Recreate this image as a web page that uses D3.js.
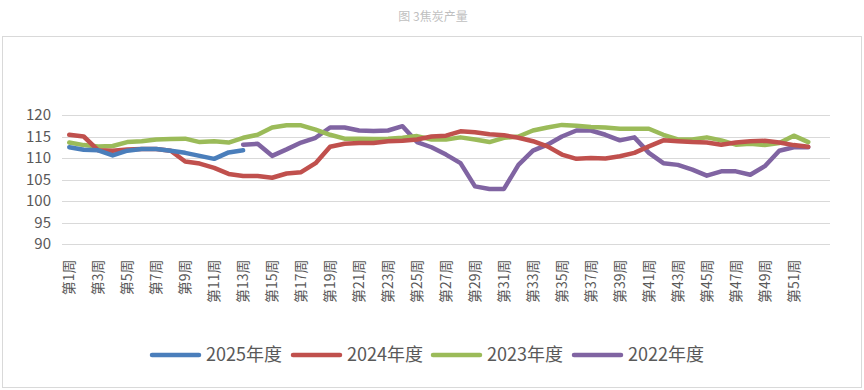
<!DOCTYPE html>
<html>
<head>
<meta charset="utf-8">
<script src="https://cdn.jsdelivr.net/npm/d3@7/dist/d3.min.js"></script>
<style>
  body { margin: 0; background: #fff; }
  text { font-family: "Noto Sans CJK SC", "Noto Sans", sans-serif; }
</style>
</head>
<body>
<svg id="chart"></svg>
<script>
// weeks 1..53 on the axis, data runs to week 52
var weeks = d3.range(1, 54).map(function (d) { return "第" + d + "周"; });
var tickWeeks = d3.range(1, 52, 2).map(function (d) { return "第" + d + "周"; });
var yTicks = [90, 95, 100, 105, 110, 115, 120];

var v2025 = [112.5, 111.9, 111.8, 110.6, 111.7, 112.1, 112.1, 111.7, 111.2, 110.5, 109.8, 111.3, 111.8];

var v2024 = [115.4, 115.0, 111.8, 111.7, 112.0, 112.1, 112.1, 111.7, 109.2, 108.7, 107.7, 106.3, 105.8,
  105.8, 105.4, 106.4, 106.7, 108.8, 112.6, 113.3, 113.5, 113.5, 113.9, 114.0, 114.3, 115.0,
  115.2, 116.2, 116.0, 115.5, 115.3, 114.7, 113.9, 112.7, 110.8, 109.8, 110.0, 109.9, 110.4,
  111.2, 112.7, 114.1, 113.9, 113.7, 113.6, 113.1, 113.6, 113.9, 114.0, 113.6, 113.0, 112.6];

var v2023 = [113.6, 113.0, 112.7, 112.8, 113.7, 113.9, 114.3, 114.4, 114.5, 113.7, 113.9, 113.6, 114.7,
  115.4, 117.1, 117.6, 117.6, 116.6, 115.4, 114.5, 114.5, 114.4, 114.5, 114.7, 115.1, 114.3,
  114.3, 114.8, 114.3, 113.7, 114.7, 115.0, 116.4, 117.1, 117.7, 117.5, 117.2, 117.1, 116.8,
  116.8, 116.8, 115.4, 114.3, 114.3, 114.8, 114.1, 113.1, 113.3, 113.0, 113.5, 115.2, 113.7];

var v2022 = [null, null, null, null, null, null, null, null, null, null, null, null, 113.1,
  113.3, 110.5, 112.0, 113.6, 114.7, 117.1, 117.1, 116.4, 116.3, 116.4, 117.4, 113.7, 112.5,
  110.8, 108.8, 103.4, 102.8, 102.8, 108.4, 111.7, 113.1, 115.0, 116.4, 116.4, 115.4, 114.1,
  114.8, 111.2, 108.8, 108.4, 107.3, 105.9, 106.9, 106.9, 106.1, 108.1, 111.7, 112.5, 112.5];

var seriesNames = ["2025年度", "2024年度", "2023年度", "2022年度"];
var seriesValues = [v2025, v2024, v2023, v2022];
var colors = ["#4a7ebb", "#c0504d", "#9bbb59", "#8064a2"];

var width = 864, height = 390;
var svg = d3.select("#chart").attr("width", width).attr("height", height);

// outer frame
svg.append("rect")
  .attr("x", 2.5).attr("y", 36.5)
  .attr("width", 859).attr("height", 351)
  .attr("fill", "none").attr("stroke", "#d9d9d9");

svg.append("text")
  .attr("x", 433).attr("y", 21)
  .attr("text-anchor", "middle")
  .attr("font-size", 12)
  .attr("fill", "#bfbfbf")
  .text("图 3焦炭产量");

var x = d3.scaleBand().domain(weeks).range([62, 830]);
var y = d3.scaleLinear().domain([90, 120]).range([244, 115]);

// gridlines
svg.append("g")
  .selectAll("line")
  .data(yTicks)
  .enter()
  .append("line")
  .attr("x1", 62).attr("x2", 830)
  .attr("y1", function (d) { return Math.round(y(d)) + 0.5; })
  .attr("y2", function (d) { return Math.round(y(d)) + 0.5; })
  .attr("stroke", "#d9d9d9")
  .attr("stroke-width", 1.2);

// y axis labels
var yAxis = d3.axisLeft(y).tickValues(yTicks).tickSize(0).tickPadding(0);
var gy = svg.append("g").attr("transform", "translate(51,0)").call(yAxis);
gy.select(".domain").remove();
gy.selectAll("text")
  .attr("font-size", 15)
  .attr("fill", "#595959")
  .style("font-family", "\"Noto Sans CJK SC\", sans-serif");

// x axis labels, rotated
var xAxis = d3.axisBottom(x).tickValues(tickWeeks).tickSize(0).tickPadding(0);
var gx = svg.append("g").attr("transform", "translate(0,258)").call(xAxis);
gx.select(".domain").remove();
gx.selectAll("text")
  .attr("font-size", 14)
  .attr("fill", "#595959")
  .attr("transform", "rotate(-90)")
  .attr("text-anchor", "end")
  .attr("x", 0).attr("y", 0)
  .attr("dx", "-0.1em").attr("dy", "0.35em")
  .style("font-family", "\"Noto Sans CJK SC\", sans-serif");

var line = d3.line()
  .defined(function (d) { return d != null; })
  .x(function (d, i) { return x(weeks[i]) + x.bandwidth() / 2; })
  .y(function (d) { return y(d); });

// draw oldest first so 2025 sits on top
[3, 2, 1, 0].forEach(function (k) {
  svg.append("path")
    .datum(seriesValues[k])
    .attr("d", line)
    .attr("fill", "none")
    .attr("stroke", colors[k])
    .attr("stroke-width", 4.5)
    .attr("stroke-linejoin", "round")
    .attr("stroke-linecap", "round");
});

// legend
var legendX = [152, 293, 433, 574];
var lg = svg.append("g");
seriesNames.forEach(function (name, k) {
  lg.append("line")
    .attr("x1", legendX[k]).attr("x2", legendX[k] + 47)
    .attr("y1", 355).attr("y2", 355)
    .attr("stroke", colors[k])
    .attr("stroke-width", 4.5)
    .attr("stroke-linecap", "round");
  lg.append("text")
    .attr("x", legendX[k] + 54).attr("y", 355)
    .attr("dy", "0.36em")
    .attr("font-size", 18)
    .attr("fill", "#595959")
    .text(name);
});
</script>
</body>
</html>
